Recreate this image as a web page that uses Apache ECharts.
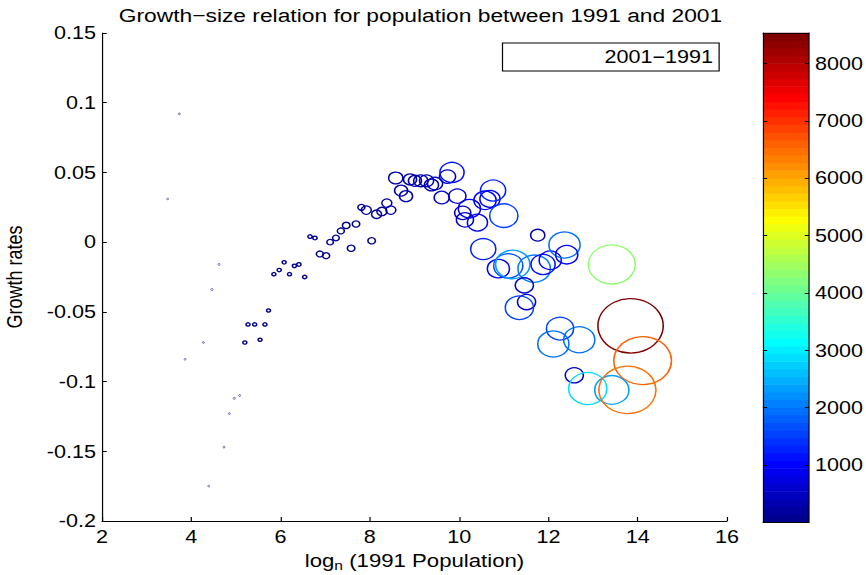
<!DOCTYPE html>
<html>
<head>
<meta charset="utf-8">
<script src="https://cdn.jsdelivr.net/npm/echarts@6/dist/echarts.min.js"></script>
<style>
  html, body { margin: 0; padding: 0; background: #fff; overflow: hidden; }
  #wrap { width: 866px; height: 575px; overflow: hidden; }
  /* the figure is laid out on a narrower canvas and widened horizontally */
  #chart { width: 722px; height: 575px; transform: scaleX(1.19945); transform-origin: 0 0; }
</style>
</head>
<body>
<div id="wrap"><div id="chart"></div></div>
<script>
// log of 1991 population for each unit
const logPop1991 = [
  3.47, 3.73, 3.86, 4.27, 4.39, 4.46, 4.62, 4.73, 4.85, 4.96, 5.08,
  5.20, 5.27, 5.42, 5.54, 5.65, 5.73, 5.85, 5.97, 6.08, 6.20, 6.31, 6.41, 6.54, 6.66, 6.77,
  6.88, 7.02, 7.11, 7.24, 7.35, 7.47, 7.58, 7.69, 7.81, 7.92, 8.04, 8.15, 8.27, 8.38, 8.47,
  8.58, 8.70, 8.81, 8.90, 9.01, 9.14, 9.27, 9.38, 9.46, 9.61, 9.74, 9.84, 9.96, 10.08, 10.13,
  10.23, 10.41, 10.58, 10.69, 10.76, 11.00, 10.54, 10.88, 11.10, 11.20, 11.68, 11.88, 12.04,
  11.46, 11.51, 11.35, 11.76, 12.36, 12.41, 12.26, 12.11, 12.69, 12.58, 12.88, 13.42,
  13.42, 13.84, 14.11, 13.77
];
// growth rate 1991-2001
const growthRate = [
  0.031, 0.092, -0.084, -0.072, -0.175, -0.034, -0.016, -0.147, -0.123, -0.112, -0.110,
  -0.072, -0.059, -0.059, -0.070, -0.059, -0.049, -0.023, -0.020, -0.0145, -0.023, -0.017, -0.016, -0.025, 0.004, 0.003,
  -0.0085, -0.0097, 0.000, 0.003, 0.008, 0.012, -0.0044, 0.013, 0.025, 0.023, 0.001, 0.020, 0.022, 0.028, 0.023,
  0.046, 0.037, 0.033, 0.045, 0.044, 0.044, 0.044, 0.041, 0.042, 0.032, 0.047, 0.050, 0.033, 0.021, 0.016,
  0.024, 0.014, 0.030, 0.031, 0.037, 0.019, -0.005, -0.019, -0.017, -0.016, -0.019, -0.016, -0.013,
  -0.031, -0.043, -0.047, 0.005, -0.002, -0.009, -0.062, -0.073, -0.070, -0.0955, -0.105, -0.106,
  -0.016, -0.060, -0.085, -0.106
];
// size value of each unit: sets circle size and colour
const sizeValue = [
  7, 9, 8, 8, 7, 10, 9, 8, 8, 10, 10,
  32, 32, 32, 30, 32, 30, 32, 34, 32, 32, 36, 36, 34, 38, 38,
  99, 99, 85, 90, 99, 114, 114, 114, 99, 202, 114, 202, 202, 202, 202,
  397, 342, 342, 342, 342, 397, 397, 397, 455, 455, 518, 1165, 585, 518, 585,
  979, 809, 979, 809, 1265, 1586, 1265, 979, 1700, 2339, 2100, 1165, 979,
  656, 656, 1586, 397, 1944, 979, 1475, 1944, 1944, 656, 2922, 2339,
  4400, 8530, 6650, 6500
];
const colorbarTicks = [1000, 2000, 3000, 4000, 5000, 6000, 7000, 8000];
const seriesName = '2001\u22121991';

const FONT = '"Liberation Sans", Arial, Helvetica, sans-serif';
const S = 866 / 722;            // horizontal widening of the canvas
const fx = v => v / S;          // page x position -> canvas x position
const cMin = Math.min(...sizeValue);
const cMax = Math.max(...sizeValue);
const SIZE_K = 0.59;            // circle diameter per sqrt(size value)

// MATLAB-style 64 level jet colormap
function jetU(k) {
  if (k < 1 || k > 47) return 0;
  if (k <= 16) return k / 16;
  if (k <= 31) return 1;
  return (48 - k) / 16;
}
function jet64(i) {
  const n = i + 1;
  const r = n >= 25 ? jetU(n - 24) : 0;
  const g = (n >= 9 && n <= 55) ? jetU(n - 8) : 0;
  const b = n <= 39 ? jetU(n + 8) : 0;
  return 'rgb(' + Math.round(r * 255) + ',' + Math.round(g * 255) + ',' + Math.round(b * 255) + ')';
}
function colorIndex(v) {
  return Math.max(0, Math.min(63, Math.floor((v - cMin) / (cMax - cMin) * 64)));
}

const points = logPop1991.map((x, i) => {
  const d = SIZE_K * Math.sqrt(sizeValue[i]);
  return {
    value: [x, growthRate[i], sizeValue[i]],
    itemStyle: {
      borderColor: jet64(colorIndex(sizeValue[i])),
      // near-zero markers shrink to a faint dot
      borderWidth: d < 2 ? 0.6 : 1.3,
      opacity: d < 2 ? 0.75 : 1
    }
  };
});

const bandStep = (cMax - cMin) / 64;
const bands = Array.from({ length: 64 }, (_, i) => [0, cMin + i * bandStep, cMin + (i + 1) * bandStep, i]);

const chart = echarts.init(document.getElementById('chart'), null, { renderer: 'svg' });

const tickFont = { color: '#000', fontFamily: FONT, fontSize: 18 };

chart.setOption({
  animation: false,
  backgroundColor: '#fff',
  title: {
    text: 'Growth\u2212size relation for population between 1991 and 2001',
    left: fx(414.5),
    textAlign: 'center',
    top: 1,
    textStyle: { color: '#000', fontFamily: FONT, fontSize: 19, fontWeight: 'normal' }
  },
  legend: {
    data: [seriesName],
    left: fx(502.5),
    top: 43,
    icon: 'none',
    itemWidth: 10,
    itemHeight: 10,
    padding: [5, 5, 5, 70],
    backgroundColor: '#fff',
    borderColor: '#000',
    borderWidth: 1,
    borderRadius: 0,
    selectedMode: false,
    textStyle: { color: '#000', fontFamily: FONT, fontSize: 18 }
  },
  grid: [
    { left: fx(102), right: 722 - fx(727), top: 33, bottom: 54, containLabel: false, outerBoundsMode: 'none' },
    { left: fx(763), right: 722 - fx(809), top: 33, bottom: 53, containLabel: false, outerBoundsMode: 'none' }
  ],
  xAxis: [
    {
      type: 'value', gridIndex: 0, min: 2, max: 16, interval: 2,
      axisLine: { onZero: false, lineStyle: { color: '#000', width: 1 } },
      axisTick: { inside: true, length: 4, lineStyle: { color: '#000' } },
      axisLabel: Object.assign({ margin: 7 }, tickFont),
      splitLine: { show: false },
      name: '{t|log}{s|n}{t| (1991 Population)}',
      nameLocation: 'middle',
      nameGap: 27,
      nameTextStyle: {
        rich: {
          t: { fontSize: 18.5, fontFamily: FONT, color: '#000', lineHeight: 24 },
          s: { fontSize: 13, fontFamily: FONT, color: '#000', lineHeight: 14, verticalAlign: 'bottom' }
        }
      }
    },
    {
      type: 'value', gridIndex: 1, min: 0, max: 1, position: 'bottom', z: 5,
      axisLine: { onZero: false, lineStyle: { color: '#000', width: 1 } },
      axisTick: { show: false }, axisLabel: { show: false }, splitLine: { show: false }
    },
    {
      type: 'value', gridIndex: 1, min: 0, max: 1, position: 'top', z: 5,
      axisLine: { onZero: false, lineStyle: { color: '#000', width: 1 } },
      axisTick: { show: false }, axisLabel: { show: false }, splitLine: { show: false }
    }
  ],
  yAxis: [
    {
      type: 'value', gridIndex: 0, min: -0.2, max: 0.15, interval: 0.05,
      axisLine: { onZero: false, lineStyle: { color: '#000', width: 1 } },
      axisTick: { inside: true, length: 4, lineStyle: { color: '#000' } },
      axisLabel: Object.assign({
        margin: 5,
        formatter: v => String(parseFloat(v.toFixed(2)))
      }, tickFont),
      splitLine: { show: false },
      name: 'Growth rates',
      nameLocation: 'middle',
      nameRotate: 90,
      nameGap: 64,
      nameTextStyle: { color: '#000', fontFamily: FONT, fontSize: 18 }
    },
    {
      type: 'value', gridIndex: 1, min: cMin, max: cMax, position: 'right', z: 5,
      axisLine: { onZero: false, lineStyle: { color: '#000', width: 1 } },
      axisTick: { inside: true, length: 3.5, customValues: colorbarTicks, lineStyle: { color: '#000' } },
      axisLabel: Object.assign({ margin: 5, customValues: colorbarTicks, formatter: v => String(Math.round(v)) }, tickFont),
      splitLine: { show: false }
    },
    {
      type: 'value', gridIndex: 1, min: cMin, max: cMax, position: 'left', z: 5,
      axisLine: { onZero: false, lineStyle: { color: '#000', width: 1 } },
      axisTick: { inside: true, length: 3.5, customValues: colorbarTicks, lineStyle: { color: '#000' } },
      axisLabel: { show: false },
      splitLine: { show: false }
    }
  ],
  series: [
    {
      name: seriesName,
      type: 'scatter',
      xAxisIndex: 0, yAxisIndex: 0,
      symbol: 'circle',
      symbolSize: v => SIZE_K * Math.sqrt(v[2]),
      silent: true,
      itemStyle: { color: 'rgba(0,0,0,0)', borderWidth: 1.3 },
      data: points
    },
    {
      name: 'colorbar',
      type: 'custom',
      xAxisIndex: 1, yAxisIndex: 1,
      silent: true,
      encode: { x: 0, y: [1, 2] },
      data: bands,
      renderItem: (params, api) => {
        const p0 = api.coord([0, api.value(1)]);
        const p1 = api.coord([1, api.value(2)]);
        return {
          type: 'rect',
          shape: { x: p0[0], y: p1[1] - 0.3, width: p1[0] - p0[0], height: p0[1] - p1[1] + 0.6 },
          style: { fill: jet64(api.value(3)), stroke: null }
        };
      }
    }
  ]
});
</script>
</body>
</html>
